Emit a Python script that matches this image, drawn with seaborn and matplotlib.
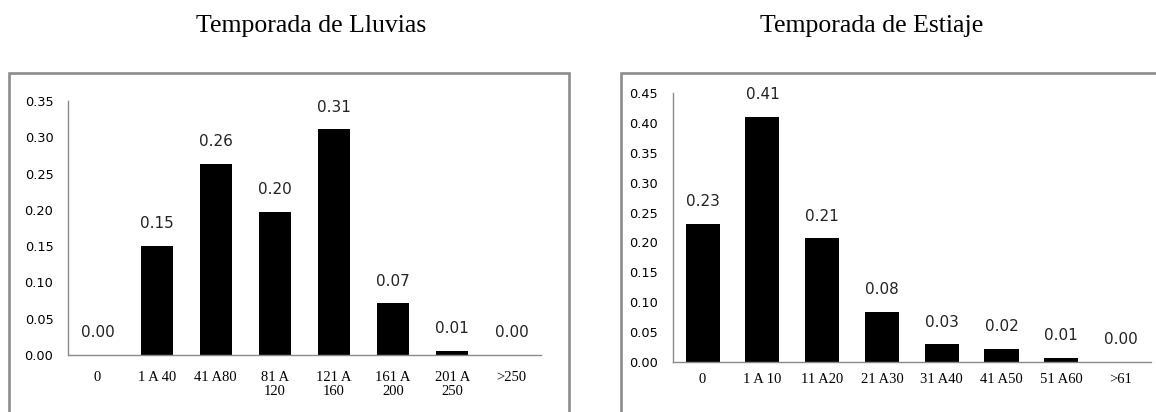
import matplotlib
matplotlib.use("Agg")
import matplotlib.pyplot as plt
from matplotlib.patches import Rectangle
import seaborn as sns
import pandas as pd

# ---- data ----
lluvias_cats = ["0", "1 A 40", "41 A80", "81 A\n120", "121 A\n160", "161 A\n200", "201 A\n250", ">250"]
lluvias_vals = [0.0, 0.150, 0.263, 0.197, 0.311, 0.071, 0.006, 0.0]

estiaje_cats = ["0", "1 A 10", "11 A20", "21 A30", "31 A40", "41 A50", "51 A60", ">61"]
estiaje_vals = [0.231, 0.410, 0.207, 0.083, 0.029, 0.022, 0.006, 0.0]

lluvias_yticks = [0.00, 0.05, 0.10, 0.15, 0.20, 0.25, 0.30, 0.35]
estiaje_yticks = [0.00, 0.05, 0.10, 0.15, 0.20, 0.25, 0.30, 0.35, 0.40, 0.45]

titles = ["Temporada de Lluvias", "Temporada de Estiaje"]

sns.set_theme(style="white")
plt.rcParams["font.family"] = ["DejaVu Sans"]

W, H = 1156, 412
fig = plt.figure(figsize=(W / 100, H / 100), dpi=100)

SPINE = "#8a8a8a"
FRAME = "#8c8c8c"


def px_axes(x0, x1, ytop, ybot):
    return fig.add_axes([x0 / W, 1 - ybot / H, (x1 - x0) / W, (ybot - ytop) / H])


def draw(ax, cats, vals, yticks, ymax, width, xpad):
    df = pd.DataFrame({"cat": cats, "val": vals})
    sns.barplot(data=df, x="cat", y="val", order=cats, color="black",
                width=width, saturation=1, ax=ax, edgecolor="none")
    ax.set_ylim(0, ymax)
    ax.set_xlim(-0.5, len(cats) - 0.5)
    ax.set_yticks(yticks)
    ax.set_yticklabels([f"{t:.2f}" for t in yticks], fontsize=9.3, color="black",
                       family="DejaVu Sans")
    ax.set_xticks(range(len(cats)))
    ax.set_xticklabels(cats, fontsize=10.5, family="Liberation Serif", color="black",
                       linespacing=1.15)
    ax.set_xlabel("")
    ax.set_ylabel("")
    ax.tick_params(axis="both", length=0)
    ax.tick_params(axis="y", pad=10.5)
    ax.tick_params(axis="x", pad=xpad)
    sns.despine(ax=ax)
    for s in ("left", "bottom"):
        ax.spines[s].set_color(SPINE)
        ax.spines[s].set_linewidth(1.0)
    ax.grid(False)
    for i, v in enumerate(vals):
        ax.annotate(f"{v:.2f}", xy=(i, v), xytext=(0, 16), textcoords="offset points",
                    ha="center", va="center", fontsize=11, color="#222222",
                    family="DejaVu Sans", annotation_clip=False)


ax1 = px_axes(68, 541, 101, 355)
draw(ax1, lluvias_cats, lluvias_vals, lluvias_yticks, 0.35, 0.54, 11.5)

ax2 = px_axes(672.7, 1151, 93.3, 361.7)
draw(ax2, estiaje_cats, estiaje_vals, estiaje_yticks, 0.45, 0.57, 8)

# outer chart frames
fig.add_artist(Rectangle((8.5 / W, -0.2), (569.3 - 8.5) / W, (1 - 73.3 / H) + 0.2,
                         transform=fig.transFigure, fill=False, ec=FRAME, lw=1.9,
                         clip_on=False))
fig.add_artist(Rectangle((620.7 / W, -0.2), 0.6, (1 - 73.3 / H) + 0.2,
                         transform=fig.transFigure, fill=False, ec=FRAME, lw=1.9,
                         clip_on=False))

fig.text(311 / W, 1 - 32 / H, titles[0], ha="center", va="baseline",
         fontsize=18.5, family="Liberation Serif", color="black")
fig.text(872 / W, 1 - 32 / H, titles[1], ha="center", va="baseline",
         fontsize=18.5, family="Liberation Serif", color="black")

fig.savefig("out.png", dpi=100)
